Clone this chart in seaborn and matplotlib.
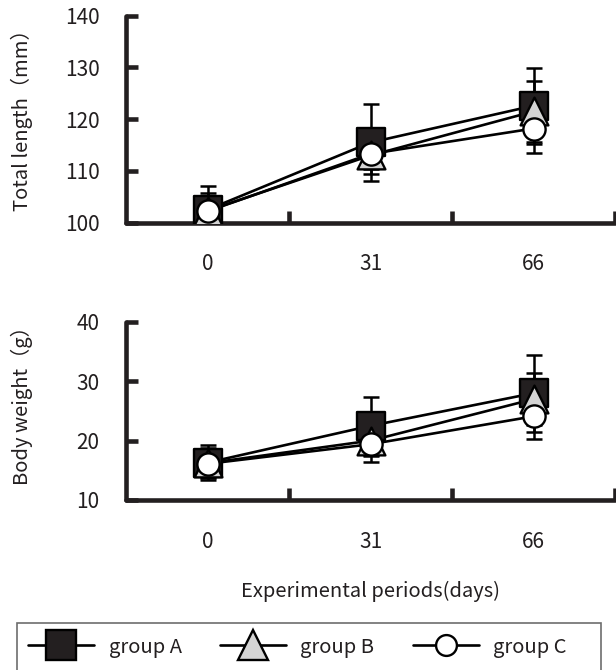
import numpy as np
import pandas as pd
import matplotlib
matplotlib.use("Agg")
import matplotlib.pyplot as plt
from matplotlib.lines import Line2D
from matplotlib.patches import Rectangle
import seaborn as sns

sns.set_theme(style="white")
plt.rcParams["font.family"] = ["Noto Sans CJK JP", "DejaVu Sans"]

# ---------------- data ----------------
days = ["0", "31", "66"]
groups = ["group A", "group B", "group C"]

length_A = [102.5, 115.5, 122.6]
length_B = [102.3, 113.0, 121.5]
length_C = [102.2, 113.3, 118.2]
length_sd_A = [4.6, 7.5, 7.3]
length_sd_B = [3.5, 3.6, 5.9]
length_sd_C = [3.0, 3.0, 4.7]

weight_A = [16.3, 22.5, 28.0]
weight_B = [16.2, 20.0, 27.0]
weight_C = [16.1, 19.4, 24.1]
weight_sd_A = [2.9, 4.9, 6.5]
weight_sd_B = [2.5, 3.6, 4.4]
weight_sd_C = [2.3, 2.0, 3.9]

length_ticks = [100, 110, 120, 130, 140]
weight_ticks = [10, 20, 30, 40]

# ---------------- styles ----------------
styles = {
    "group A": dict(marker="s", face="#231f20", size=20),
    "group B": dict(marker="^", face="#d4d4d4", size=20),
    "group C": dict(marker="o", face="white", size=16),
}
legend_sizes = {"group A": 21, "group B": 21, "group C": 15}
INK = "#231f20"

W, H = 616, 670
fig = plt.figure(figsize=(W / 100, H / 100), dpi=100)


def fx(px):
    return px / W


def fy(py):
    return 1 - py / H


ax1 = fig.add_axes([fx(126), fy(222.7), fx(615) - fx(126), fy(15.7) - fy(222.7)])
ax2 = fig.add_axes([fx(126), fy(500), fx(615) - fx(126), fy(322) - fy(500)])


def make_df(means, sds):
    rows = []
    for g, m, s in zip(groups, means, sds):
        for i, d in enumerate(days):
            rows.append(dict(day=d, pos=i, group=g, mean=m[i], sd=s[i]))
    return pd.DataFrame(rows)


def panel(ax, df, yticks, ylabel, label_y):
    for g in groups:
        d = df[df["group"] == g]
        sns.lineplot(data=d, x="pos", y="mean", color="black", linewidth=1.9,
                     ax=ax, zorder=2, legend=False, sort=False, errorbar=None)
        ax.errorbar(d["pos"], d["mean"], yerr=d["sd"], fmt="none", ecolor="black",
                    elinewidth=1.8, capsize=6, capthick=1.8, zorder=2.5)
    for i, g in enumerate(groups):
        d = df[df["group"] == g]
        st = styles[g]
        sns.scatterplot(data=d, x="pos", y="mean", marker=st["marker"],
                        s=st["size"] ** 2, color=st["face"], edgecolor="black",
                        linewidth=1.7, ax=ax, zorder=3 + i, legend=False)
    ax.set_xlim(-0.5, 2.5)
    ax.set_ylim(yticks[0], yticks[-1])
    ax.set_yticks(yticks)
    ax.set_yticklabels([str(t) for t in yticks])
    ax.set_xticks(range(len(days)))
    ax.set_xticklabels(days)
    ax.set_xticks([0.5, 1.5, 2.5], minor=True)
    ax.tick_params(axis="x", which="major", length=0, pad=22, labelsize=15,
                   colors=INK)
    ax.tick_params(axis="x", which="minor", direction="in", length=8.5, width=3.3,
                   color=INK, bottom=True)
    ax.tick_params(axis="y", which="major", direction="in", length=8.5, width=3.3,
                   pad=19, labelsize=15, color=INK, labelcolor=INK, left=True)
    for side in ["top", "right"]:
        ax.spines[side].set_visible(False)
    for side in ["left", "bottom"]:
        ax.spines[side].set_linewidth(3.3)
        ax.spines[side].set_color(INK)
        ax.spines[side].set_capstyle("round")
    ax.set_xlabel("")
    ax.set_ylabel(ylabel, fontsize=14.5, color=INK, va="center")
    ax.yaxis.set_label_coords(-0.213, label_y)
    ax.patch.set_alpha(0)


df_len = make_df([length_A, length_B, length_C],
                 [length_sd_A, length_sd_B, length_sd_C])
df_wt = make_df([weight_A, weight_B, weight_C],
                [weight_sd_A, weight_sd_B, weight_sd_C])

panel(ax1, df_len, length_ticks, "Total length（mm）", 0.52)
panel(ax2, df_wt, weight_ticks, "Body weight（g）", 0.56)

ax2.set_xlabel("Experimental periods(days)", fontsize=14.5, color=INK,
               va="center")
ax2.xaxis.set_label_coords(0.5, (500 - 591) / 178)

# legend box
fig.add_artist(Rectangle((fx(17), fy(672)), fx(601) - fx(17), fy(623) - fy(672),
                         transform=fig.transFigure, facecolor="white",
                         edgecolor="#6d6d6d", linewidth=1.2, zorder=0))

handles = []
for g in groups:
    st = styles[g]
    handles.append(Line2D([0], [0], color="black", linewidth=1.9,
                          marker=st["marker"], markersize=legend_sizes[g],
                          markerfacecolor=st["face"], markeredgecolor="black",
                          markeredgewidth=1.7))
leg = fig.legend(handles, groups, loc="center left",
                 bbox_to_anchor=(fx(28), fy(647)),
                 ncol=3, fontsize=14.5, handlelength=3.3,
                 handletextpad=0.7, columnspacing=1.9, borderpad=0,
                 borderaxespad=0, frameon=False)
for t in leg.get_texts():
    t.set_color(INK)

fig.savefig("out.png", dpi=100)
